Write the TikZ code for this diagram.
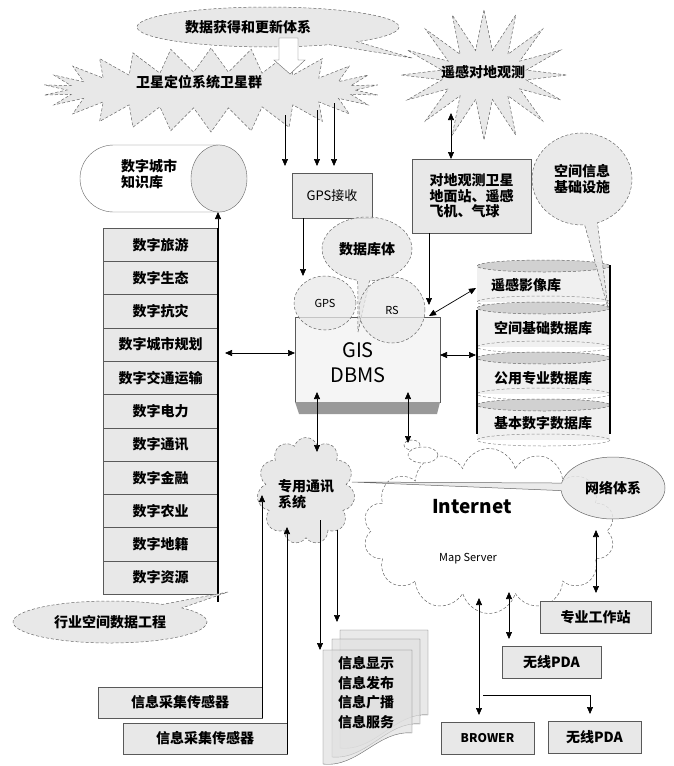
\documentclass[tikz,border=0pt]{standalone}
\usepackage{fontspec}
\setmainfont{Noto Sans CJK SC}
\usetikzlibrary{shapes.symbols,shapes.callouts,shapes.geometric,shapes.misc,arrows.meta,calc}
\begin{document}
\begin{tikzpicture}[x=1pt,y=-1pt,
  every node/.style={font=\fontsize{14}{16}\selectfont\bfseries, inner sep=0pt, outer sep=0pt},
  hatch/.style={fill=black!9},
  boxst/.style={draw=black!65, line width=0.6pt, hatch, rectangle},
  dashst/.style={draw=black!60, densely dashed, line width=0.5pt},
  arr/.style={-{Triangle[length=7pt,width=6pt]}, line width=0.7pt},
  dbl/.style={{Triangle[length=7pt,width=6pt]}-{Triangle[length=7pt,width=6pt]}, line width=0.7pt},
  small/.style={font=\fontsize{11}{13}\selectfont},
]
\useasboundingbox (0,0) rectangle (674,766);

% ---------- top ----------
\node[starburst, starburst points=26, starburst point height=24pt, random starburst=0,
      dashst, hatch, minimum width=336pt, minimum height=84pt] (sat) at (211,90) {};
\node (satt) at (199,82) {卫星定位系统卫星群};
\node[starburst, starburst points=16, starburst point height=40pt, random starburst=0,
      dashst, hatch, minimum width=166pt, minimum height=130pt] (rss) at (484,75) {};
\node (rsst) at (483,72) {遥感对地观测};
\node[ellipse callout, dashst, hatch, minimum width=262pt, minimum height=40pt,
      callout absolute pointer={(412,58)}] (acq) at (268,27) {};
\node (acqt) at (248,27) {数据获得和更新体系};
\draw[draw=black!60, fill=white] (279,38) -- (298,38) -- (298,60) -- (305,60) -- (290,74) -- (274,60) -- (279,60) -- cycle;

% arrows from satellites
\coordinate (g1) at (285,115); \coordinate (g1e) at (285,166);
\coordinate (g2) at (317,110); \coordinate (g2e) at (317,166);
\coordinate (g3) at (334,103); \coordinate (g3e) at (334,166);
\draw[arr] (g1) -- (g1e);
\draw[arr] (g2) -- (g2e);
\draw[arr] (g3) -- (g3e);

% ---------- knowledge base cylinder ----------
\node[rounded rectangle, rounded rectangle right arc=none, draw=black!60, fill=white,
      minimum width=140pt, minimum height=67pt, anchor=west] (kbbody) at (80,178.5) {};
\node[ellipse, draw=black!60, hatch, minimum width=56pt, minimum height=67pt] (kbcap) at (219,178.5) {};
\node[align=left] (kbt) at (149,174) {数字城市\\知识库};

% ---------- left column ----------
\foreach \t [count=\i] in {数字旅游,数字生态,数字抗灾,数字城市规划,数字交通运输,数字电力,数字通讯,数字金融,数字农业,数字地籍,数字资源}
  \node[boxst, minimum width=115pt, minimum height=33.3pt] (c\i) at (160.5,{228+33.3*(\i-0.5)}) {\t};
\draw[line width=1.8pt] (c1.north east) -- ([yshift=-8pt]c11.south east);
\draw[arr] (c1.north east) -- (c1.north east |- kbcap.south);

\node[ellipse callout, dashst, hatch, minimum width=194pt, minimum height=42pt,
      callout absolute pointer={(228,592)}] (ind) at (110,622) {行业空间数据工程};

% ---------- GPS receive ----------
\node[boxst, minimum width=80pt, minimum height=45pt, font=\fontsize{13}{15}\selectfont] (gpsr) at (332,195.5) {GPS接收};

% ---------- GIS DBMS ----------
\node[boxst, fill=black!4, minimum width=145pt, minimum height=85pt] (gis) at (367.5,359.5) {};
\fill[black!40] (gis.south west) -- (gis.south east) -- ++(-3,12) -- ($(gis.south west)+(4,12)$) -- cycle;
\node[align=center, font=\fontsize{20}{25}\selectfont] (gist) at (358,363) {GIS\\DBMS};

\node[ellipse callout, dashst, hatch, fill opacity=0.85, text opacity=1, minimum width=90pt, minimum height=64pt,
      callout absolute pointer={(358,332)}] (dbt) at (367,249) {数据库体};
\node[ellipse, dashst, hatch, fill opacity=0.75, text opacity=1, minimum width=62pt, minimum height=54pt, small] (gpsc) at (325,303) {GPS};
\node[ellipse, dashst, hatch, fill opacity=0.75, text opacity=1, minimum width=66pt, minimum height=66pt, small] (rsc) at (392,310) {RS};

\draw[arr] ([xshift=-29pt]gpsr.south) -- ([xshift=-29pt]gpsr.south |- gpsc.north);

% ---------- earth observation box ----------
\node[boxst, minimum width=119pt, minimum height=74pt, align=left, font=\fontsize{14}{15.5}\selectfont\bfseries] (eo) at (471.5,196) {对地观测卫星\\地面站、遥感\\飞机、气球};
\coordinate (rsb) at (451,113);
\draw[dbl] (rsb) -- (rsb |- eo.north);
\coordinate (p1) at (429,305);
\draw[arr] (eo.south -| p1) -- (p1);

% ---------- database stack ----------
\foreach \tt/\bb in {266/302,308/347,358/394,405/440}{
  \fill[black!6] (477,\tt) rectangle (610,\bb);
  \draw[dashst, black!45] (543.5,\bb) ellipse [x radius=66.5, y radius=6];
  \draw[dashst, fill=black!18] (543.5,\tt) ellipse [x radius=66.5, y radius=6];
}
\draw[line width=1.8pt] (477,310) -- (477,434);
\draw[line width=1.8pt] (610,265) -- (610,434);
\node (rsimg) at (526,285) {遥感影像库};
\node (sdb) at (543,328) {空间基础数据库};
\node (pdb) at (543,378) {公用专业数据库};
\node (bdb) at (543,423) {基本数字数据库};

\coordinate (p2) at (429,316);
\coordinate (p3) at (476,288);
\draw[dbl] (p2) -- (p3);
\coordinate (dbL) at (476,355);
\draw[dbl] ([yshift=4.5pt]gis.east) -- (dbL);

\node[ellipse callout, dashst, hatch, fill opacity=0.9, text opacity=1, minimum width=100pt, minimum height=92pt,
      callout absolute pointer={(608,308)}, align=center] (sii) at (582,179) {空间信息\\基础设施};

% left column <-> GIS
\coordinate (gL) at ([yshift=6.5pt]gis.west);
\draw[dbl] ([xshift=7pt]c4.east |- gL) -- (gL);

% ---------- Internet ----------
\node[cloud, cloud puffs=14, dashst, fill=white, minimum width=252pt, minimum height=165pt] (inet) at (489,531) {};
\node[font=\fontsize{19}{21}\selectfont\bfseries] (itxt) at (472,507) {Internet};
\node[small] (mst) at (468,559) {Map Server};
\node[ellipse, dashst, fill=white, minimum width=16pt, minimum height=10pt] (b1) at (412,445) {};
\node[ellipse, dashst, fill=white, minimum width=30pt, minimum height=16pt] (b2) at (423,455) {};

\node[cloud, cloud puffs=11, dashst, hatch, minimum width=98pt, minimum height=107pt] (commc) at (306,491) {};
\node[align=left] (commt) at (306,494) {专用通讯\\系统};

\node[ellipse callout, draw=black!60, line width=0.5pt, hatch, fill opacity=0.85, text opacity=1, minimum width=104pt, minimum height=62pt,
      callout absolute pointer={(352,482)}, callout pointer arc=14] (net) at (613,488) {网络体系};

% GIS <-> comm / internet
\coordinate (q1) at (317,392); \coordinate (q2) at (317,452);
\draw[dbl] (q1) -- (q2);
\coordinate (q3) at (408,392); \coordinate (q4) at (408,443);
\draw[dbl] (q3) -- (q4);

% ---------- right bottom boxes ----------
\node[boxst, minimum width=111pt, minimum height=32pt] (ws) at (595.5,617) {专业工作站};
\node[boxst, minimum width=99pt, minimum height=32pt] (pda1) at (551.5,662) {无线PDA};
\node[boxst, minimum width=93pt, minimum height=32pt, font=\fontsize{12}{14}\selectfont\bfseries] (brw) at (487.5,738) {BROWER};
\node[boxst, minimum width=93pt, minimum height=32pt] (pda2) at (594.5,737) {无线PDA};

\coordinate (r1) at (596,530); \coordinate (r2) at (596,593);
\draw[dbl] (r1) -- (r2);
\coordinate (r3) at (509,592); \coordinate (r4) at (509,639);
\draw[dbl] (r3) -- (r4);
\coordinate (r5) at (479,598); \coordinate (r6) at (479,715);
\draw[dbl] (r5) -- (r6);
\coordinate (r7) at (483,695); \coordinate (r8) at (590,714);
\draw[arr] (r7) -| (r8);

% ---------- sensors ----------
\node[boxst, minimum width=164pt, minimum height=31pt] (s1) at (180,702.5) {信息采集传感器};
\node[boxst, minimum width=164pt, minimum height=31pt] (s2) at (205,738.5) {信息采集传感器};
\coordinate (u1) at (262,495); \coordinate (u2) at (287,527);
\draw[arr] (s1.south east) -- (s1.south east |- u1);
\draw[arr] (s2.south east) -- (s2.south east |- u2);

% ---------- documents ----------
\draw[black!60, fill=black!12, fill opacity=0.7] (340,630) -- (428,630) -- (428,715) .. controls (395,712) and (375,752) .. (340,748) -- cycle;
\draw[black!60, fill=black!12, fill opacity=0.7] (332,639) -- (420,639) -- (420,724) .. controls (387,721) and (367,760) .. (332,757) -- cycle;
\draw[black!60, fill=black!12, fill opacity=0.7] (323,650) -- (412,650) -- (412,733) .. controls (378,730) and (358,768) .. (323,764) -- cycle;
\node[align=left, font=\fontsize{14}{19.5}\selectfont\bfseries] (docs) at (366,692.5) {信息显示\\信息发布\\信息广播\\信息服务};

\coordinate (d1) at (320,520); \coordinate (d1e) at (320,650);
\coordinate (d2) at (337,530); \coordinate (d2e) at (337,622);
\draw[arr] (d1) -- (d1e);
\draw[arr] (d2) -- (d2e);
\end{tikzpicture}
\end{document}
